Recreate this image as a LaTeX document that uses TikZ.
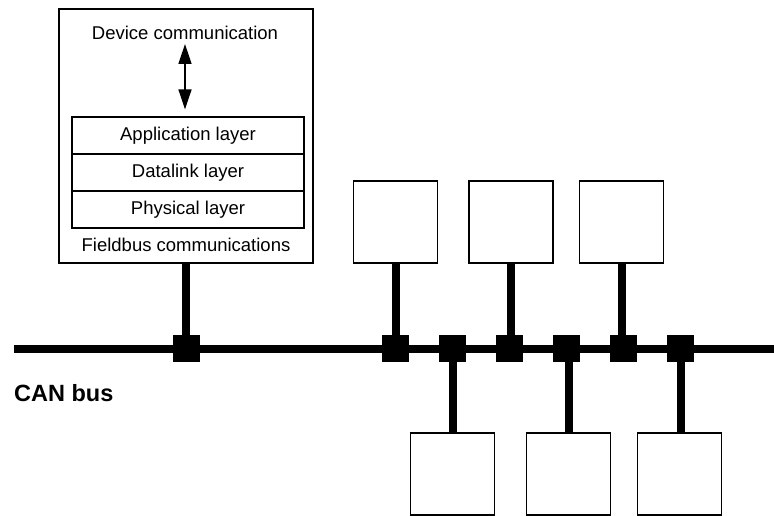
\documentclass[tikz,border=0pt]{standalone}
\usepackage{fontspec}
\setmainfont{Liberation Sans}
\usetikzlibrary{arrows.meta}
\begin{document}
\begin{tikzpicture}[x=1pt,y=-1pt,
  lbl/.style={inner sep=0pt,font=\fontsize{18.5}{22}\selectfont},
  mainbox/.style={draw,line width=1.2pt,minimum width=254pt,minimum height=254pt,inner sep=0pt},
  layerbox/.style={draw,line width=1.2pt,minimum width=232pt,minimum height=37pt,inner sep=0pt,font=\fontsize{18.5}{22}\selectfont},
  devbox/.style={draw,line width=1.2pt,minimum width=84pt,minimum height=82pt,inner sep=0pt},
  junction/.style={fill=black,minimum size=27pt,inner sep=0pt},
  bus/.style={line width=8pt},
  drop/.style={line width=8pt},
  dbl/.style={line width=1.5pt,{Triangle[width=13pt,length=20pt]}-{Triangle[width=13pt,length=20pt]}}
]
\useasboundingbox (0,0) rectangle (774,515);
% main device
\node[mainbox] (main) at (186,136) {};
\node[lbl] (dev) at (185,33) {Device communication};
\node[layerbox] (app) at (188,135.5) {Application layer};
\node[layerbox] (dl) at (188,172.5) {Datalink layer};
\node[layerbox] (phy) at (188,209.5) {Physical layer};
\node[lbl] (fb) at (186,245) {Fieldbus communications};
\draw[dbl,shorten <=4pt,shorten >=7pt] (dev.south -| 185,0) -- (app.north -| 185,0);
% bus
\coordinate (busL) at (14,348.5);
\coordinate (busR) at (774,348.5);
\draw[bus] (busL) -- (busR);
\node[junction] (j1) at (186,348.5) {};
\node[junction] (j2) at (395.5,348.5) {};
\node[junction] (j3) at (452.5,348.5) {};
\node[junction] (j4) at (509.5,348.5) {};
\node[junction] (j5) at (566.5,348.5) {};
\node[junction] (j6) at (623.5,348.5) {};
\node[junction] (j7) at (680.5,348.5) {};
% upper devices
\node[devbox] (t1) at (395.5,222) {};
\node[devbox] (t2) at (511,222) {};
\node[devbox] (t3) at (621.5,222) {};
% lower devices
\node[devbox] (b1) at (452.5,474) {};
\node[devbox] (b2) at (568.5,474) {};
\node[devbox] (b3) at (679.5,474) {};
% drops
\draw[drop] (main.south -| j1) -- (j1.north);
\draw[drop] (t1.south -| j2) -- (j2.north);
\draw[drop] (t2.south) -- (t2.south |- j4.north);
\draw[drop] (t3.south) -- (t3.south |- j6.north);
\draw[drop] (j3.south) -- (j3.south |- b1.north);
\draw[drop] (b2.north) -- (b2.north |- j5.south);
\draw[drop] (j7.south) -- (j7.south |- b3.north);
\node[anchor=west,inner sep=0pt,font=\fontsize{23.5}{28}\selectfont\bfseries] (can) at (14,393) {CAN bus};
\end{tikzpicture}
\end{document}
